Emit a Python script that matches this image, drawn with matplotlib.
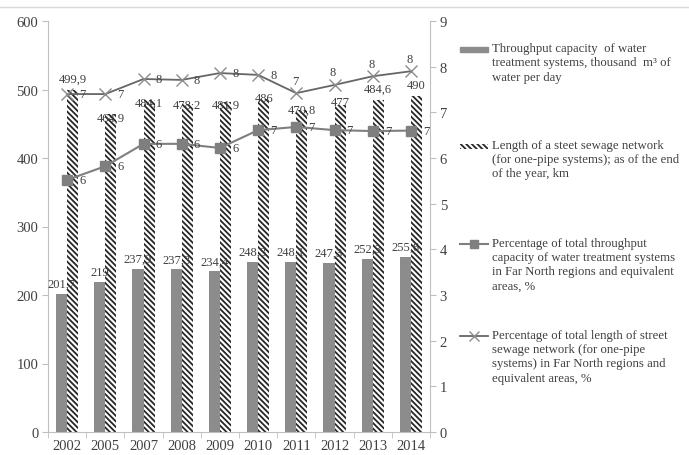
import numpy as np
import matplotlib
matplotlib.use("Agg")
import matplotlib.pyplot as plt
from matplotlib.lines import Line2D
from matplotlib.patches import Rectangle
from matplotlib.ticker import MultipleLocator, FixedLocator

plt.rcParams['font.family'] = ['Liberation Serif', 'DejaVu Serif']
plt.rcParams['font.size'] = 9
plt.rcParams['hatch.linewidth'] = 1.3

years = ['2002', '2005', '2007', '2008', '2009', '2010', '2011', '2012', '2013', '2014']
throughput = [201.7, 219, 237.9, 237.3, 234.4, 248.3, 248.1, 247.3, 252.3, 255.6]
sewage_len = [499.9, 464.9, 484.1, 478.2, 481.9, 486, 470.8, 477, 484.6, 490]
pct_throughput = [5.52, 5.82, 6.31, 6.31, 6.22, 6.61, 6.68, 6.61, 6.59, 6.60]
pct_length = [7.40, 7.40, 7.73, 7.71, 7.86, 7.82, 7.42, 7.60, 7.79, 7.90]

# label placement tweaks (points) for the sewage bar labels and x-line labels
len_lab_dy = [8, -3, -2, 0, -2, 1, 0, 2, 8, 8]
pct_len_pos = ['r', 'r', 'r', 'r', 'r', 'r', 'a', 'a', 'a', 'a']

W, H = 689, 456
fig = plt.figure(figsize=(W / 100, H / 100), dpi=100)
ax = fig.add_axes([48 / W, 1 - 433 / H, (430 - 48) / W, (433 - 22) / H])

x = np.arange(len(years))
bw = 0.29
grey = '#8c8c8c'
axcol = '#bfbfbf'
txtcol = '#404040'
hatch = '\\\\\\\\\\\\'

ax.bar(x - bw / 2, throughput, bw, color=grey, edgecolor='none', zorder=2)
ax.bar(x + bw / 2, sewage_len, bw, color='white', edgecolor='#262626',
       hatch=hatch, linewidth=0, zorder=2)

for i in range(len(years)):
    ax.annotate(f"{throughput[i]:g}".replace('.', ','), (x[i] - bw / 2, throughput[i]),
                xytext=(0, 3), textcoords='offset points', ha='center', va='bottom',
                color=txtcol, zorder=5)
    ax.annotate(f"{sewage_len[i]:g}".replace('.', ','), (x[i] + bw / 2, sewage_len[i]),
                xytext=(0, len_lab_dy[i]), textcoords='offset points', ha='center', va='center',
                color=txtcol, zorder=5)

ax.set_xlim(-0.5, len(years) - 0.5)
ax.set_ylim(0, 600)
ax.yaxis.set_major_locator(MultipleLocator(100))
ax.set_xticks(x)
ax.set_xticklabels(years)
ax.xaxis.set_minor_locator(FixedLocator(np.arange(-0.5, len(years), 1.0)))
ax.tick_params(axis='x', which='major', length=0, pad=5, colors=txtcol, labelsize=10.5)
ax.tick_params(axis='x', which='minor', length=4, color=axcol)
ax.tick_params(axis='y', length=4, color=axcol, labelcolor=txtcol, pad=3, labelsize=10.5)
for s in ['top', 'right']:
    ax.spines[s].set_visible(False)
for s in ['left', 'bottom']:
    ax.spines[s].set_color(axcol)

ax2 = ax.twinx()
ax2.set_ylim(0, 9)
ax2.yaxis.set_major_locator(MultipleLocator(1))
ax2.tick_params(axis='y', length=4, color=axcol, labelcolor=txtcol, pad=3, labelsize=10.5)
for s in ['top', 'left', 'bottom']:
    ax2.spines[s].set_visible(False)
ax2.spines['right'].set_color(axcol)

ax2.plot(x, pct_throughput, color='#7f7f7f', lw=1.5, marker='s', ms=7,
         mfc='#7f7f7f', mec='#7f7f7f', zorder=4)
ax2.plot(x, pct_length, color='#666666', lw=1.3, marker='x', ms=8,
         mew=1.0, mec='#8c8c8c', zorder=4)

for i in range(len(years)):
    ax2.annotate(f"{round(pct_throughput[i])}", (x[i], pct_throughput[i]),
                 xytext=(11, 0), textcoords='offset points', ha='center', va='center',
                 color=txtcol, zorder=5)
    off = (11, 0) if pct_len_pos[i] == 'r' else (-1, 9)
    ax2.annotate(f"{round(pct_length[i])}", (x[i], pct_length[i]),
                 xytext=off, textcoords='offset points', ha='center', va='center',
                 color=txtcol, zorder=5)

# top border line
fig.add_artist(Line2D([0, 1], [1 - 8 / H, 1 - 8 / H], color='#d9d9d9', lw=1,
                      transform=fig.transFigure))

# legend
legend_items = [
    ('bar', "Throughput capacity  of water\ntreatment systems, thousand  m³ of\nwater per day", 50),
    ('hatch', "Length of a steet sewage network\n(for one-pipe systems); as of the end\nof the year, km", 147),
    ('sq', "Percentage of total throughput\ncapacity of water treatment systems\nin Far North regions and equivalent\nareas, %", 245),
    ('x', "Percentage of total length of street\nsewage network (for one-pipe\nsystems) in Far North regions and\nequivalent areas, %", 337),
]
for kind, label, ypx in legend_items:
    yf = 1 - ypx / H
    if kind == 'bar':
        fig.add_artist(Rectangle((460 / W, yf - 2.5 / H), 28 / W, 5 / H, color=grey,
                                 transform=fig.transFigure))
    elif kind == 'hatch':
        fig.add_artist(Rectangle((460 / W, yf - 2.5 / H), 28 / W, 5 / H, facecolor='white',
                                 edgecolor='#262626', hatch=hatch, lw=0,
                                 transform=fig.transFigure))
    elif kind == 'sq':
        fig.add_artist(Line2D([460 / W, 488 / W], [yf, yf], color='#7f7f7f', lw=1.5,
                              transform=fig.transFigure))
        fig.add_artist(Line2D([474 / W], [yf], color='#7f7f7f', marker='s', ms=6,
                              transform=fig.transFigure))
    else:
        fig.add_artist(Line2D([460 / W, 488 / W], [yf, yf], color='#666666', lw=1.3,
                              transform=fig.transFigure))
        fig.add_artist(Line2D([474 / W], [yf], color='#8c8c8c', marker='x', ms=7, mew=1.0,
                              transform=fig.transFigure))
    fig.text(492 / W, yf + 7 / H, label, ha='left', va='top', color=txtcol,
             linespacing=1.25, fontsize=9.2)

fig.savefig('out.png', dpi=100)
